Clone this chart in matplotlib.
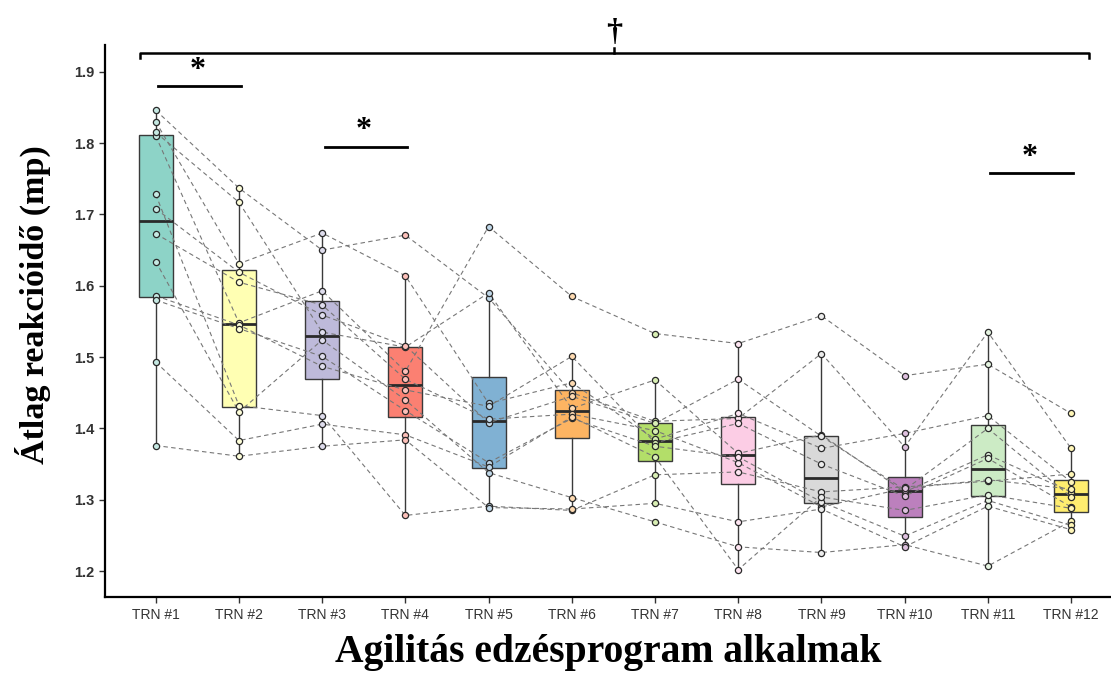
import numpy as np
import matplotlib
matplotlib.use("Agg")
import matplotlib.pyplot as plt

# session labels
labels = ["TRN #%d" % i for i in range(1, 13)]

# mean reaction time per session, 12 subjects (A..L) in the same order
trn1 = [1.810, 1.846, 1.830, 1.815, 1.728, 1.708, 1.673, 1.634, 1.586, 1.580, 1.493, 1.376]
trn2 = [1.548, 1.737, 1.631, 1.717, 1.432, 1.619, 1.605, 1.423, 1.545, 1.540, 1.383, 1.361]
trn3 = [1.593, 1.650, 1.674, 1.535, 1.418, 1.559, 1.573, 1.524, 1.487, 1.501, 1.406, 1.375]
trn4 = [1.480, 1.671, 1.614, 1.514, 1.278, 1.516, 1.469, 1.440, 1.454, 1.425, 1.391, 1.384]
trn5 = [1.683, 1.583, 1.435, 1.590, 1.291, 1.408, 1.413, 1.338, 1.431, 1.352, 1.346, 1.289]
trn6 = [1.585, 1.450, 1.464, 1.428, 1.285, 1.445, 1.420, 1.303, 1.501, 1.414, 1.416, 1.287]
trn7 = [1.533, 1.410, 1.385, 1.468, 1.335, 1.407, 1.397, 1.269, 1.380, 1.375, 1.360, 1.295]
trn8 = [1.519, 1.414, 1.421, 1.365, 1.339, 1.469, 1.352, 1.234, 1.407, 1.360, 1.202, 1.269]
trn9 = [1.558, 1.505, 1.372, 1.391, 1.311, 1.389, 1.290, 1.226, 1.350, 1.297, 1.304, 1.287]
trn10 = [1.474, 1.374, 1.393, 1.311, 1.318, 1.314, 1.316, 1.237, 1.305, 1.249, 1.285, 1.234]
trn11 = [1.490, 1.535, 1.418, 1.363, 1.326, 1.400, 1.328, 1.207, 1.358, 1.299, 1.307, 1.291]
trn12 = [1.421, 1.372, 1.325, 1.311, 1.336, 1.304, 1.315, 1.270, 1.290, 1.264, 1.288, 1.258]

colors = ["#8DD3C7", "#FFFFB3", "#BEBADA", "#FB8072", "#80B1D3", "#FDB462",
          "#B3DE69", "#FCCDE5", "#D9D9D9", "#BC80BD", "#CCEBC5", "#FFED6F"]

# significance marks: (from, to, y, text)
sig_pairs = [(1, 2, 1.880, "*"), (3, 4, 1.795, "*"), (11, 12, 1.758, "*")]

data = np.array([trn1, trn2, trn3, trn4, trn5, trn6,
                 trn7, trn8, trn9, trn10, trn11, trn12])
pos = np.arange(1, 13)

fig = plt.figure(figsize=(11.11, 6.77), dpi=100)
ax = fig.add_axes([0.0945, 0.118, 0.9055, 0.816])

bp = ax.boxplot(list(data), positions=pos, widths=0.41, patch_artist=True,
                showfliers=False, whis=1.5, zorder=1,
                boxprops=dict(edgecolor="#3a3a3a", linewidth=1.0),
                whiskerprops=dict(color="#3a3a3a", linewidth=1.0),
                capprops=dict(linewidth=0),
                medianprops=dict(color="#2a2a2a", linewidth=2.0))
for patch, c in zip(bp["boxes"], colors):
    patch.set_facecolor(c)

# subject trajectories
for s in range(data.shape[1]):
    ax.plot(pos, data[:, s], ls=(0, (4, 3)), color="#777777", lw=0.8, zorder=2)

# individual points
for i, c in enumerate(colors):
    fc = np.array(matplotlib.colors.to_rgb(c)) * 0.5 + 0.5
    ax.scatter(np.full(data.shape[1], pos[i]), data[i], s=20, facecolor=fc,
               edgecolor="#2a2a2a", linewidth=0.9, zorder=3)

# pairwise significance bars
for a, b, y, t in sig_pairs:
    ax.plot([a + 0.03, b + 0.02], [y, y], color="black", lw=2.0, zorder=4)
    ax.text((a + b) / 2, y + 0.002, t, ha="center", va="bottom",
            fontsize=23, fontweight="bold", family="Liberation Serif")

# overall bracket
bx0, bx1, by = 0.81, 12.21, 1.927
ax.plot([bx0, bx0, bx1, bx1], [by - 0.007, by, by, by - 0.007],
        color="black", lw=1.8, clip_on=False, zorder=4)
mid = (bx0 + bx1) / 2
ax.plot([mid, mid], [by, by + 0.006], color="black", lw=1.8, clip_on=False)
ax.text(mid, by + 0.008, "\u2020", ha="center", va="bottom", fontsize=23,
        fontweight="bold", family="Liberation Serif", clip_on=False)

ax.set_xlim(0.39, 12.48)
ax.set_ylim(1.1635, 1.938)
ax.set_xticks(pos)
ax.set_xticklabels(labels, fontsize=10, family="Liberation Sans", color="#333333")
ax.set_yticks([1.2, 1.3, 1.4, 1.5, 1.6, 1.7, 1.8, 1.9])
ax.set_yticklabels(["1.2", "1.3", "1.4", "1.5", "1.6", "1.7", "1.8", "1.9"],
                   fontsize=10.5, fontweight="bold", family="Liberation Sans",
                   color="#333333")
ax.tick_params(length=4, width=1.0, color="#333333")

for sp in ["top", "right"]:
    ax.spines[sp].set_visible(False)
for sp in ["left", "bottom"]:
    ax.spines[sp].set_linewidth(1.6)

ax.set_ylabel("Átlag reakcióidő (mp)", fontsize=24.5, fontweight="bold",
              family="Liberation Serif")
ax.yaxis.set_label_coords(-0.054, 0.529)
ax.set_xlabel("Agilitás edzésprogram alkalmak", fontsize=28.5, fontweight="bold",
              family="Liberation Serif", labelpad=9)

fig.savefig("out.png", dpi=100)
